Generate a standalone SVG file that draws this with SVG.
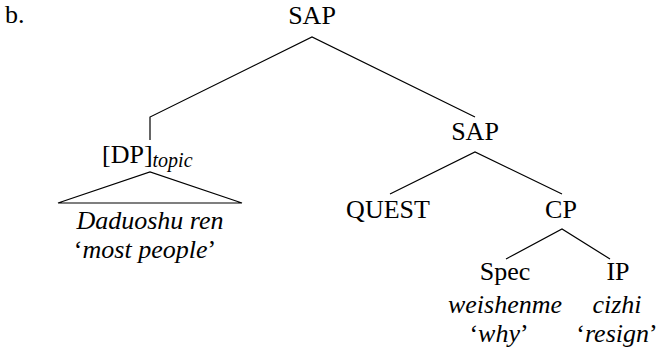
<svg xmlns="http://www.w3.org/2000/svg" width="660" height="353" viewBox="0 0 660 353">
<style>
text{font-family:"Liberation Serif","DejaVu Serif",serif;font-size:26px;fill:#000}
.m{text-anchor:middle}
.i{font-style:italic}
.sub{font-size:20px;font-style:italic}
.e{fill:none;stroke:#000;stroke-width:1.2}
</style>
<rect width="660" height="353" fill="#fff"/>
<text x="5" y="23">b.</text>
<g id="connectors">
<polyline class="e" points="150,140 150,117 312,37 475,117"/>
<polyline class="e" points="390,194 475,152 562,194"/>
<polyline class="e" points="506,259 562,229 610,259"/>
<polygon class="e" points="58,203 150,172 242,203"/>
</g>
<g id="n-sap1"><text class="m" x="312" y="24">SAP</text></g>
<g id="n-sap2"><text class="m" x="475" y="140">SAP</text></g>
<g id="n-dp"><text x="102" y="163">[DP]<tspan class="sub" dy="4">topic</tspan></text></g>
<g id="n-dp-content">
<text class="m i" x="150" y="229">Daduoshu ren</text>
<text class="m" x="145" y="258">‘<tspan class="i">most people</tspan>’</text>
</g>
<g id="n-quest"><text class="m" x="388" y="218">QUEST</text></g>
<g id="n-cp"><text class="m" x="561" y="218">CP</text></g>
<g id="n-spec">
<text class="m" x="505" y="280">Spec</text>
<text class="m i" x="505" y="313">weishenme</text>
<text class="m" x="499" y="342">‘<tspan class="i">why</tspan>’</text>
</g>
<g id="n-ip">
<text class="m" x="618" y="280">IP</text>
<text class="m i" x="617" y="313">cizhi</text>
<text class="m" x="617" y="342">‘<tspan class="i">resign</tspan>’</text>
</g>
</svg>
